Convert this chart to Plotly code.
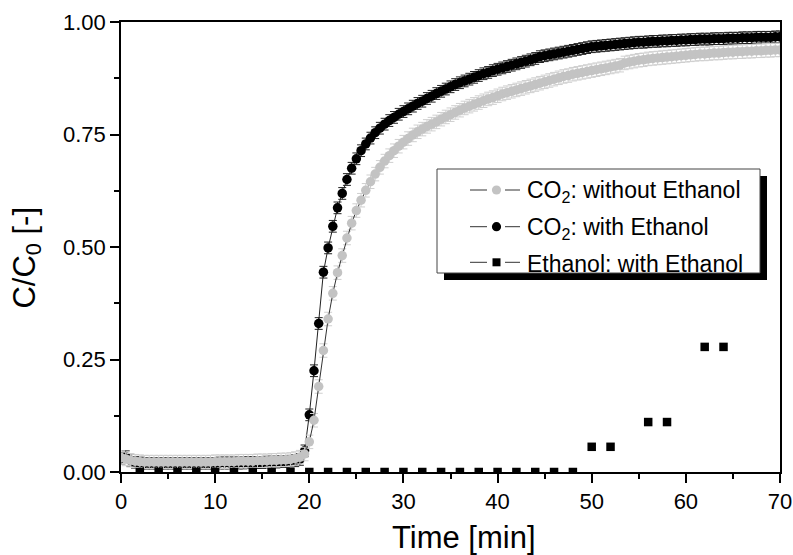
import plotly.graph_objects as go

# ---------------- data ----------------
TIME_CO2 = [round(0.5 * i, 1) for i in range(141)]  # 0 ... 70 min, every 0.5 min

CO2_WITH_ETOH = [
    0.030, 0.034, 0.026, 0.021, 0.020, 0.019, 0.019, 0.019, 0.019, 0.019,
    0.019, 0.019, 0.019, 0.019, 0.019, 0.019, 0.019, 0.019, 0.019, 0.019,
    0.019, 0.020, 0.020, 0.020, 0.020, 0.020, 0.020, 0.021, 0.021, 0.021,
    0.021, 0.022, 0.022, 0.022, 0.023, 0.023, 0.024, 0.025, 0.028, 0.047,
    0.127, 0.225, 0.330, 0.444, 0.498, 0.546, 0.587, 0.619, 0.650, 0.675,
    0.696, 0.714, 0.729, 0.742, 0.754, 0.764, 0.773, 0.781, 0.788, 0.795,
    0.801, 0.807, 0.813, 0.819, 0.824, 0.830, 0.835, 0.841, 0.846, 0.851,
    0.856, 0.861, 0.865, 0.869, 0.873, 0.877, 0.881, 0.885, 0.888, 0.892,
    0.895, 0.898, 0.901, 0.904, 0.907, 0.910, 0.913, 0.916, 0.919, 0.923,
    0.925, 0.927, 0.929, 0.931, 0.933, 0.935, 0.937, 0.939, 0.941, 0.943,
    0.945, 0.946, 0.947, 0.948, 0.949, 0.950, 0.951, 0.952, 0.953, 0.954,
    0.955, 0.955, 0.956, 0.957, 0.957, 0.958, 0.958, 0.959, 0.959, 0.960,
    0.960, 0.961, 0.961, 0.962, 0.962, 0.962, 0.963, 0.963, 0.963, 0.964,
    0.964, 0.964, 0.965, 0.965, 0.965, 0.966, 0.966, 0.966, 0.966, 0.967,
    0.967,
]

CO2_WITHOUT_ETOH = [
    0.032, 0.029, 0.026, 0.024, 0.023, 0.022, 0.022, 0.022, 0.022, 0.022,
    0.022, 0.022, 0.022, 0.022, 0.022, 0.022, 0.022, 0.022, 0.022, 0.022,
    0.023, 0.023, 0.023, 0.023, 0.023, 0.024, 0.024, 0.024, 0.024, 0.025,
    0.025, 0.025, 0.026, 0.026, 0.027, 0.027, 0.028, 0.030, 0.033, 0.040,
    0.067, 0.115, 0.190, 0.270, 0.340, 0.397, 0.443, 0.481, 0.520, 0.553,
    0.581, 0.604, 0.626, 0.645, 0.662, 0.677, 0.691, 0.703, 0.714, 0.724,
    0.733, 0.741, 0.749, 0.756, 0.762, 0.768, 0.773, 0.778, 0.784, 0.789,
    0.794, 0.799, 0.804, 0.809, 0.813, 0.817, 0.821, 0.825, 0.829, 0.832,
    0.836, 0.840, 0.843, 0.846, 0.849, 0.852, 0.855, 0.858, 0.861, 0.864,
    0.867, 0.870, 0.873, 0.876, 0.879, 0.881, 0.884, 0.886, 0.888, 0.890,
    0.892, 0.894, 0.896, 0.898, 0.900, 0.902, 0.904, 0.909, 0.911, 0.913,
    0.915, 0.916, 0.918, 0.919, 0.920, 0.921, 0.922, 0.923, 0.924, 0.925,
    0.926, 0.927, 0.928, 0.929, 0.929, 0.930, 0.931, 0.931, 0.932, 0.933,
    0.933, 0.934, 0.934, 0.935, 0.935, 0.936, 0.936, 0.937, 0.937, 0.938,
    0.938,
]

ERR_WITH = 0.013
ERR_WITHOUT = 0.015

TIME_ETOH = [2, 4, 6, 8, 10, 12, 14, 16, 18, 20, 22, 24, 26, 28, 30, 32, 34,
             36, 38, 40, 42, 44, 46, 48, 50, 52, 56, 58, 62, 64]
ETOH = [0.0] * 24 + [0.056, 0.056, 0.111, 0.111, 0.278, 0.278]

LEGEND_LABELS = ["CO<sub>2</sub>: without Ethanol",
                 "CO<sub>2</sub>: with Ethanol",
                 "Ethanol: with Ethanol"]

X_TICKS = [0, 10, 20, 30, 40, 50, 60, 70]
Y_TICKS = [0.0, 0.25, 0.5, 0.75, 1.0]

# ---------------- styles ----------------
FONT = "Liberation Sans, Arial, sans-serif"
LIGHT = "#c3c3c3"
LIGHT_ERR = "#cfcfcf"

fig = go.Figure()

fig.add_trace(go.Scatter(
    x=TIME_CO2, y=CO2_WITH_ETOH, mode="lines+markers", name="CO2: with Ethanol",
    line=dict(color="#222222", width=1),
    marker=dict(color="black", size=9.5, symbol="circle"),
    error_y=dict(type="constant", value=ERR_WITH, color="#222222", thickness=1, width=4),
    showlegend=False))

fig.add_trace(go.Scatter(
    x=TIME_CO2, y=CO2_WITHOUT_ETOH, mode="lines+markers", name="CO2: without Ethanol",
    line=dict(color="#333333", width=1),
    marker=dict(color=LIGHT, size=9.5, symbol="circle"),
    error_y=dict(type="constant", value=ERR_WITHOUT, color=LIGHT_ERR, thickness=1, width=4),
    showlegend=False))

fig.add_trace(go.Scatter(
    x=TIME_ETOH, y=ETOH, mode="markers", name="Ethanol: with Ethanol",
    marker=dict(color="black", size=8.5, symbol="square"),
    showlegend=False))

axis_common = dict(showgrid=False, zeroline=False, color="black", automargin=False,
                   tickfont=dict(family=FONT, size=22, color="black"))

fig.update_layout(
    width=793, height=555,
    margin=dict(l=121, r=13, t=22, b=83, autoexpand=False),
    paper_bgcolor="white", plot_bgcolor="white",
    font=dict(family=FONT, color="black"),
    xaxis=dict(range=[0, 70], tickvals=X_TICKS, ticks="outside", ticklen=9, tickwidth=1.5,
               tickcolor="black", showline=True, linewidth=1.5, linecolor="black", mirror=True,
               minor=dict(dtick=5, tick0=0, ticks="outside", ticklen=5, tickwidth=1.5, tickcolor="black"),
               **axis_common),
    yaxis=dict(range=[0, 1], tickvals=Y_TICKS, tickformat=".2f", ticks="outside", ticklen=9,
               tickwidth=1.5, tickcolor="black", showline=True, linewidth=1.5, linecolor="black",
               mirror=True,
               minor=dict(dtick=0.125, tick0=0, ticks="outside", ticklen=5, tickwidth=1.5, tickcolor="black"),
               **axis_common),
    xaxis2=dict(range=[0, 70], overlaying="x", side="top", anchor="y", tickvals=X_TICKS,
                ticks="inside", ticklen=9, tickwidth=1.5, tickcolor="black", showticklabels=False,
                showline=False,
                minor=dict(dtick=5, tick0=0, ticks="inside", ticklen=5, tickwidth=1.5, tickcolor="black"),
                **axis_common),
    yaxis2=dict(range=[0, 1], overlaying="y", side="right", anchor="x", tickvals=Y_TICKS,
                ticks="inside", ticklen=9, tickwidth=1.5, tickcolor="black", showticklabels=False,
                showline=False,
                minor=dict(dtick=0.125, tick0=0, ticks="inside", ticklen=5, tickwidth=1.5, tickcolor="black"),
                **axis_common),
)

# ---------------- axis titles ----------------
fig.add_annotation(text="Time [min]", xref="paper", yref="paper", x=0.5205, y=-0.145,
                   xanchor="center", yanchor="middle", showarrow=False,
                   font=dict(family=FONT, size=31, color="black"))
fig.add_annotation(text="C/C<sub>0</sub> [-]", xref="paper", yref="paper", x=-0.143, y=0.476,
                   xanchor="center", yanchor="middle", showarrow=False, textangle=-90,
                   font=dict(family=FONT, size=31, color="black"))

# ---------------- hand-drawn legend (with drop shadow) ----------------
def px_x(p):
    return (p - 121) / 659.0

def px_y(p):
    return (472 - p) / 450.0

fig.add_shape(type="rect", xref="paper", yref="paper",
              x0=px_x(444), x1=px_x(767), y0=px_y(280), y1=px_y(176),
              fillcolor="black", line=dict(width=0), layer="above")
fig.add_shape(type="rect", xref="paper", yref="paper",
              x0=px_x(437), x1=px_x(760), y0=px_y(273), y1=px_y(169),
              fillcolor="white", line=dict(color="#444444", width=1), layer="above")

rows = [190, 226.7, 262.3]
marker_styles = [("circle", LIGHT), ("circle", "black"), ("square", "black")]
for (sym, col), label, ry in zip(marker_styles, LEGEND_LABELS, rows):
    for a, b in [(470, 487), (505, 520)]:
        fig.add_shape(type="line", xref="paper", yref="paper",
                      x0=px_x(a), x1=px_x(b), y0=px_y(ry), y1=px_y(ry),
                      line=dict(color="#333333", width=1), layer="above")
    r = 4.6 if sym == "circle" else 4.0
    fig.add_shape(type="circle" if sym == "circle" else "rect", xref="paper", yref="paper",
                  x0=px_x(496.5 - r), x1=px_x(496.5 + r), y0=px_y(ry + r), y1=px_y(ry - r),
                  fillcolor=col, line=dict(width=0), layer="above")
    fig.add_annotation(text=label, xref="paper", yref="paper", x=px_x(525), y=px_y(ry + 1.5),
                       xanchor="left", yanchor="middle", showarrow=False,
                       font=dict(family=FONT, size=23, color="black"))

fig.write_html("out.html")
